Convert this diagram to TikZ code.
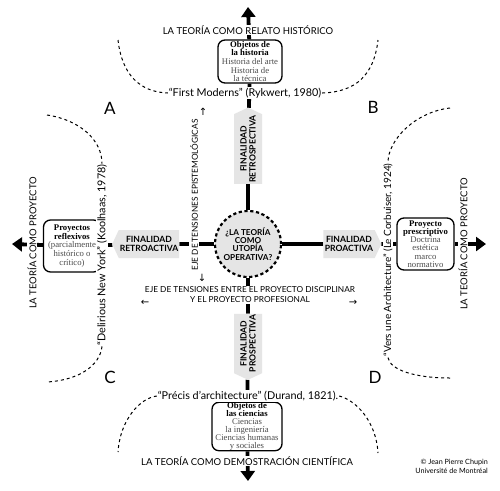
\documentclass[tikz,border=0pt]{standalone}
\usepackage{fontspec}
\setmainfont{Liberation Serif}
\newfontfamily\opt{Lato}
\newfontfamily\sym{DejaVu Sans}
\usetikzlibrary{arrows.meta,shapes.symbols}
\definecolor{shade}{gray}{0.9}
\definecolor{txtgray}{gray}{0.3}
\pgfdeclarelayer{bg}
\pgfsetlayers{bg,main}
\begin{document}
\begin{tikzpicture}[x=1pt,y=-1pt,
  axis/.style={line width=3.8pt},
  tip/.style={-{Triangle[width=14pt,length=10pt]}},
  box/.style={draw, line width=1.3pt, rounded corners=7pt, fill=white, align=center,
    inner sep=0pt, font=\fontsize{8.7}{8.6}\selectfont},
  fin/.style={signal, signal from=nowhere, signal pointer angle=130, fill=shade,
    align=center, inner sep=1pt, minimum height=28pt,
    font=\opt\bfseries\fontsize{8.6}{9}\selectfont},
  ttl/.style={fill=white, inner sep=0.8pt, font=\opt\fontsize{9.5}{10}\selectfont},
  eje/.style={fill=white, inner sep=0.8pt, align=center, font=\opt\fontsize{8.3}{10}\selectfont},
  cite/.style={fill=white, inner sep=0.8pt, font=\opt\fontsize{10.8}{11}\selectfont},
  quad/.style={font=\opt\fontsize{17}{17}\selectfont},
  dcurve/.style={dash pattern=on 3pt off 3pt, line width=1pt},
  arr/.style={inner sep=0pt, font=\sym\fontsize{10}{10}\selectfont}
]
\useasboundingbox (0,0) rectangle (500,490);

% end points of the axes
\coordinate (Ntip) at (248,7);
\coordinate (Stip) at (248,481);
\coordinate (Wtip) at (12,244);
\coordinate (Etip) at (486,244);

% centre
\node[circle, minimum size=66pt, fill=shade, draw, line width=2.2pt,
  dash pattern=on 3.2pt off 2.6pt, align=center, inner sep=0pt,
  font=\opt\bfseries\fontsize{8.2}{8.4}\selectfont] (circ) at (248,244)
  {¿LA TEORÍA\\COMO\\UTOPÍA\\OPERATIVA?};

% boxes
\node[box, minimum width=64pt, minimum height=43pt] (hist) at (250,61.5)
  {\textbf{Objetos de}\\\textbf{la historia}\\\textcolor{txtgray}{Historia del arte}\\
   \textcolor{txtgray}{Historia de}\\\textcolor{txtgray}{la técnica}};
\node[box, minimum width=70pt, minimum height=47pt, font=\fontsize{8.7}{7.9}\selectfont] (sci) at (247,426.5)
  {\textbf{Objetos de}\\\textbf{las ciencias}\\\textcolor{txtgray}{Ciencias}\\
   \textcolor{txtgray}{la ingeniería}\\\textcolor{txtgray}{Ciencias humanas}\\\textcolor{txtgray}{y sociales}};
\node[box, minimum width=57pt, minimum height=52pt] (refl) at (72,246)
  {\textbf{Proyectos}\\\textbf{reflexivos}\\\textcolor{txtgray}{(parcialmente}\\
   \textcolor{txtgray}{histórico o}\\\textcolor{txtgray}{crítico)}};
\node[box, minimum width=57pt, minimum height=52pt, font=\fontsize{8.7}{8.2}\selectfont] (presc) at (425.5,244)
  {\textbf{Proyecto}\\\textbf{prescriptivo}\\\textcolor{txtgray}{Doctrina}\\
   \textcolor{txtgray}{estética}\\\textcolor{txtgray}{marco}\\\textcolor{txtgray}{normativo}};

% finalidad labels
\node[fin, signal to=west, minimum width=62pt] (fra) at (149,244) {FINALIDAD\\RETROACTIVA};
\node[fin, signal to=east, minimum width=58pt] (fpa) at (349,244) {FINALIDAD\\PROACTIVA};
\node[fin, signal to=east, rotate=90, minimum width=68pt] (frs) at (248,149) {FINALIDAD\\RETROSPECTIVA};
\node[fin, signal to=west, rotate=90, minimum width=63pt] (fps) at (248,343.5) {FINALIDAD\\PROSPECTIVA};

% titles of the axes
\node[ttl] (tN) at (248,30) {LA TEORÍA COMO RELATO HISTÓRICO};
\node[ttl] (tS) at (247,461) {LA TEORÍA COMO DEMOSTRACIÓN CIENTÍFICA};
\node[ttl, rotate=90] (tW) at (32,243) {LA TEORÍA COMO PROYECTO};
\node[ttl, rotate=90] (tE) at (463,244) {LA TEORÍA COMO PROYECTO};

% tension axes
\node[eje, rotate=90] (ejeV) at (194,195) {EJE DE TENSIONES EPISTEMOLÓGICAS};
\node[arr] (aUp) at (203,112) {↑};
\node[arr] (aDn) at (202,278) {↓};
\node[eje] (ejeH) at (250,295) {EJE DE TENSIONES ENTRE EL PROYECTO DISCIPLINAR\\Y EL PROYECTO PROFESIONAL};
\node[arr] (aL) at (145,303) {←};
\node[arr] (aR) at (353,303) {→};

% citations
\node[cite] (rykw) at (245,93) {“First Moderns” (Rykwert, 1980)};
\node[cite, rotate=90] (kool) at (102,255) {“Delirious New York” (Koolhaas, 1978)};
\node[cite, rotate=90, font=\opt\fontsize{10}{11}\selectfont] (corb) at (388,260) {“Vers une Architecture” (Le Corbuiser, 1924)};
\node[cite] (dur) at (248,396) {“Précis d’architecture” (Durand, 1821).};

% quadrants
\node[quad] (qA) at (110,108) {A};
\node[quad] (qB) at (373,107) {B};
\node[quad] (qC) at (110,377) {C};
\node[quad] (qD) at (375,377) {D};

% copyright
\node[anchor=east, align=right, inner sep=0pt, font=\opt\fontsize{7.2}{8.8}\selectfont] (copy) at (488,466)
  {© Jean Pierre Chupin\\Université de Montréal};

% dashed curves
\draw[dcurve] (118,40) .. controls (122,75) and (140,92) .. (rykw.west);
\draw[dcurve] (rykw.east) .. controls (356,92) and (374,75) .. (378,40);
\draw[dcurve] (47,115) .. controls (80,120) and (102,140) .. (kool.east);
\draw[dcurve] (kool.west) .. controls (100,365) and (80,380) .. (47,382);
\draw[dcurve] (450,108) .. controls (415,112) and (388,140) .. (corb.east);
\draw[dcurve] (corb.west) .. controls (390,370) and (415,378) .. (450,378);
\draw[dcurve] (dur.west) .. controls (140,398) and (120,420) .. (118,452);
\draw[dcurve] (dur.east) .. controls (355,400) and (376,420) .. (378,453);

% axes
\begin{pgfonlayer}{bg}
\fill[white] (0,0) rectangle (500,490);
\draw[axis] (circ) -- (frs);
\draw[axis] (frs) -- (hist);
\draw[axis,tip] (hist) -- (Ntip);
\draw[axis] (circ) -- (fps);
\draw[axis] (fps) -- (sci);
\draw[axis,tip] (sci) -- (Stip);
\draw[axis] (circ) -- (fra);
\draw[axis] (fra) -- (refl);
\draw[axis,tip] (refl) -- (Wtip);
\draw[axis] (circ) -- (fpa);
\draw[axis] (fpa) -- (presc);
\draw[axis,tip] (presc) -- (Etip);
\end{pgfonlayer}
\end{tikzpicture}
\end{document}
